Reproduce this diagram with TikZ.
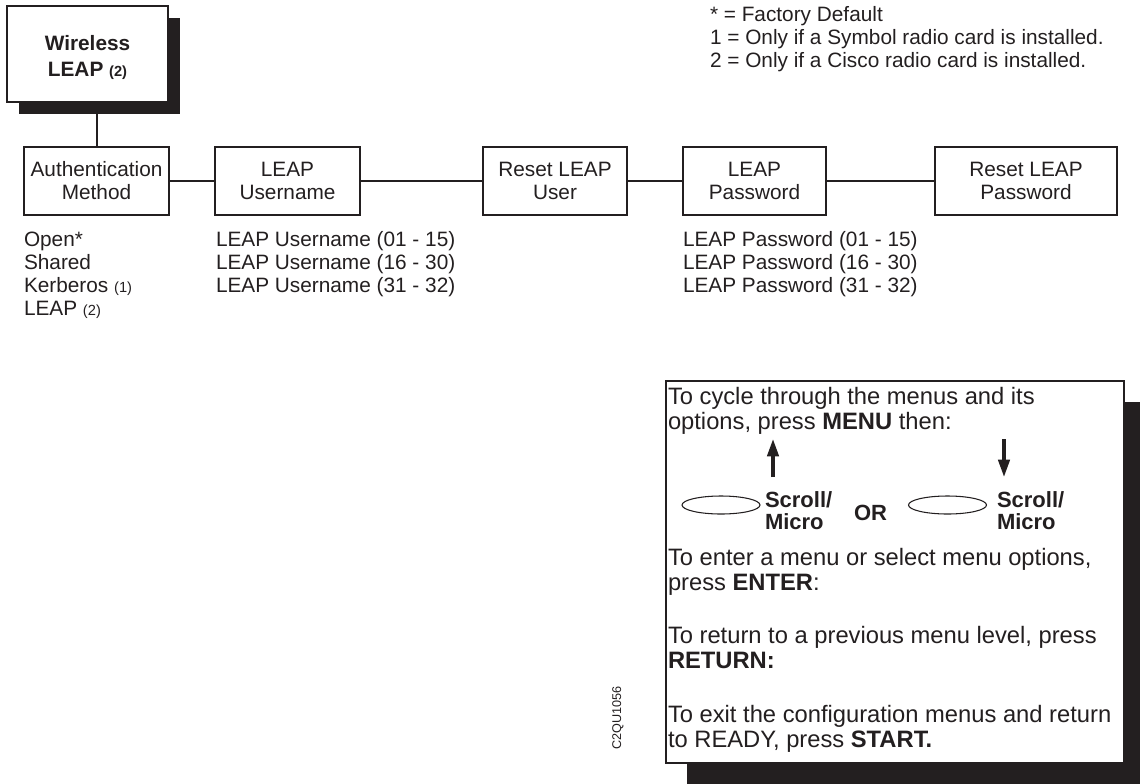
\documentclass[tikz,border=0pt]{standalone}
\usepackage{fontspec}
\setmainfont{Liberation Sans}
\usetikzlibrary{shapes.geometric,arrows.meta,shadows}
\definecolor{ink}{HTML}{231F20}
\begin{document}
\begin{tikzpicture}[x=0.75pt,y=-0.75pt,
  every node/.style={inner sep=0pt, outer sep=0pt, text=ink},
  lbl/.style={anchor=base west, font=\fontsize{15.6}{17}\selectfont},
  hlp/.style={anchor=base west, font=\fontsize{17.8}{20}\selectfont},
  keylbl/.style={anchor=base west, font=\fontsize{16.5}{18}\selectfont\bfseries},
  menubox/.style={draw=ink, line width=1.5pt, fill=white, align=center,
    minimum width=#1*0.75pt, minimum height=51pt,
    font=\fontsize{15.6}{17.25}\selectfont},
  conn/.style={draw=ink, line width=1.5pt},
  arr/.style={draw=ink, line width=2.5pt, -{Triangle[length=13pt,width=8.5pt]}},
  oval/.style={draw=ink, line width=0.8pt, ellipse, minimum width=58.5pt, minimum height=13.5pt},
  title/.style={anchor=base, font=\fontsize{15.6}{17}\selectfont\bfseries}
]
\useasboundingbox (0,0) rectangle (1140,783);

% top box with shadow
\node[draw=ink, line width=1.5pt, fill=white,
  minimum width=120.75pt, minimum height=72pt,
  general shadow={fill=ink, shadow xshift=9pt, shadow yshift=-9pt}]
  (wl) at (87.5,54) {};
\node[title] (wt1) at (87.5,50) {Wireless};
\node[title] (wt2) at (87.5,76) {LEAP {\fontsize{11}{12}\selectfont (2)}};

% menu boxes
\node[menubox=145] (am) at (96.5,180.5) {Authentication\\Method};
\node[menubox=145] (lu) at (287.5,180.5) {LEAP\\Username};
\node[menubox=144] (ru) at (555,180.5) {Reset LEAP\\User};
\node[menubox=143] (lp) at (754.5,180.5) {LEAP\\Password};
\node[menubox=182] (rp) at (1026,180.5) {Reset LEAP\\Password};

\draw[conn] (am.north) -- (am.north |- wl.south);
\draw[conn] (am.east) -- (lu.west);
\draw[conn] (lu.east) -- (ru.west);
\draw[conn] (ru.east) -- (lp.west);
\draw[conn] (lp.east) -- (rp.west);

% option lists
\node[lbl] (o1) at (24,246) {Open*};
\node[lbl] (o2) at (24,269) {Shared};
\node[lbl] (o3) at (24,292) {Kerberos {\fontsize{11}{12}\selectfont (1)}};
\node[lbl] (o4) at (24,315) {LEAP {\fontsize{11}{12}\selectfont (2)}};

\node[lbl] (u1) at (216,246) {LEAP Username (01 - 15)};
\node[lbl] (u2) at (216,269) {LEAP Username (16 - 30)};
\node[lbl] (u3) at (216,292) {LEAP Username (31 - 32)};

\node[lbl] (p1) at (683,246) {LEAP Password (01 - 15)};
\node[lbl] (p2) at (683,269) {LEAP Password (16 - 30)};
\node[lbl] (p3) at (683,292) {LEAP Password (31 - 32)};

% legend
\node[lbl] (k1) at (710,21) {* = Factory Default};
\node[lbl] (k2) at (710,44) {1 = Only if a Symbol radio card is installed.};
\node[lbl] (k3) at (710,67) {2 = Only if a Cisco radio card is installed.};

% help box
\node[draw=ink, line width=0.8pt, fill=white,
  minimum width=343.5pt, minimum height=286.5pt,
  general shadow={fill=ink, shadow xshift=15.75pt, shadow yshift=-15.75pt}]
  (help) at (895,572) {};

\node[hlp] (h1) at (668,404) {To cycle through the menus and its};
\node[hlp] (h2) at (668,429) {options, press \textbf{MENU} then:};

\coordinate (ua) at (773,477);
\coordinate (ub) at (773,439);
\coordinate (da) at (1004,439);
\coordinate (db) at (1004,477);
\draw[arr] (ua) -- (ub);
\draw[arr] (da) -- (db);

\node[oval] (e1) at (721,505) {};
\node[oval] (e2) at (947.5,505) {};
\node[keylbl] (s1) at (765,507) {Scroll/};
\node[keylbl] (m1) at (765,529) {Micro};
\node[keylbl] (or) at (854,520) {OR};
\node[keylbl] (s2) at (997,507) {Scroll/};
\node[keylbl] (m2) at (997,529) {Micro};

\node[hlp] (h3) at (668,565) {To enter a menu or select menu options,};
\node[hlp] (h4) at (668,590) {press \textbf{ENTER}:};
\node[hlp] (h5) at (668,643) {To return to a previous menu level, press};
\node[hlp] (h6) at (668,668) {\textbf{RETURN:}};
\node[hlp] (h7) at (668,722) {To exit the configuration menus and return};
\node[hlp] (h8) at (668,747) {to READY, press \textbf{START.}};

\node[rotate=90, font=\fontsize{9.5}{11}\selectfont] (id) at (618,718) {C2QU1056};
\end{tikzpicture}
\end{document}
